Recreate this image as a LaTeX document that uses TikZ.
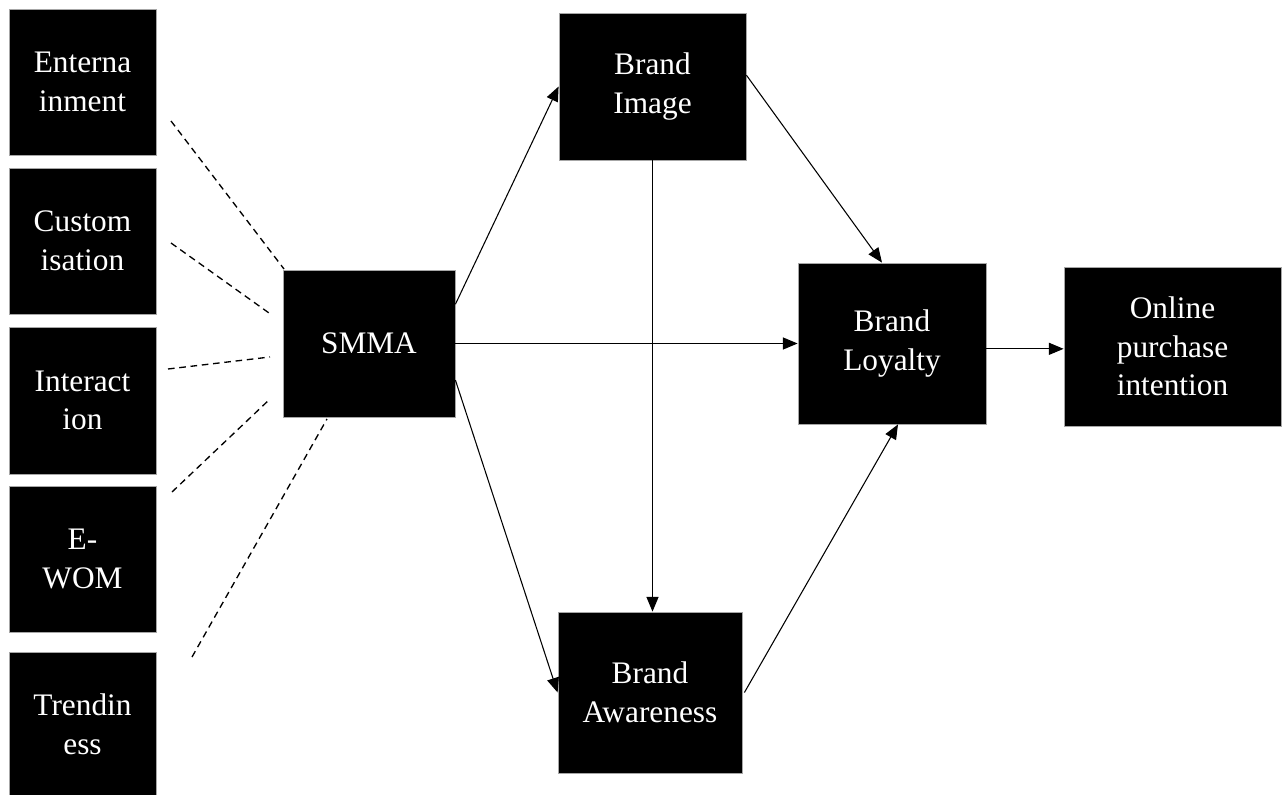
\documentclass[tikz,border=0pt]{standalone}
\usepackage{fontspec}
\setmainfont{Liberation Serif}
\usetikzlibrary{arrows.meta,calc}
\begin{document}
\begin{tikzpicture}[x=0.75pt,y=-0.75pt,
  box/.style={fill=black,draw=gray!70,line width=0.6pt,text=white,align=center,inner sep=0pt,
    font=\fontsize{23.5}{29}\selectfont},
  conn/.style={line width=0.8pt,-{Triangle[length=11pt,width=9pt]}},
  dline/.style={line width=1pt,dash pattern=on 5pt off 3.5pt}]
\useasboundingbox (0,0) rectangle (1285,795);
% left boxes
\node[box,minimum width=110.25pt,minimum height=109.5pt] (e1) at (82.5,82) {Enterna\\inment};
\node[box,minimum width=110.25pt,minimum height=109.5pt] (e2) at (82.5,241) {Custom\\isation};
\node[box,minimum width=110.25pt,minimum height=110.25pt] (e3) at (82.5,400.5) {Interact\\ion};
\node[box,minimum width=110.25pt,minimum height=109.5pt] (e4) at (82.5,559) {E-\\WOM};
\node[box,minimum width=110.25pt,minimum height=108pt] (e5) at (82.5,724) {Trendin\\ess};
% main boxes
\node[box,minimum width=129pt,minimum height=110.25pt] (smma) at (369,343.5) {SMMA};
\node[box,minimum width=140.25pt,minimum height=110.25pt] (bi) at (652.5,86.5) {Brand\\Image};
\node[box,minimum width=138pt,minimum height=120.75pt] (ba) at (650,692.5) {Brand\\Awareness};
\node[box,minimum width=141pt,minimum height=120.75pt] (bl) at (892,343.5) {Brand\\Loyalty};
\node[box,minimum width=162.75pt,minimum height=119.25pt] (op) at (1172.5,346.5) {Online\\purchase\\intention};
% dashed lines (free ends)
\coordinate (d1a) at (171,121); \coordinate (d1b) at (284,269);
\coordinate (d2a) at (171,243); \coordinate (d2b) at (269,313);
\coordinate (d3a) at (168,369); \coordinate (d3b) at (270,357);
\coordinate (d4a) at (172,492); \coordinate (d4b) at (270,399);
\coordinate (d5a) at (192,657); \coordinate (d5b) at (327,419);
\draw[dline] (d1a) -- (d1b);
\draw[dline] (d2a) -- (d2b);
\draw[dline] (d3a) -- (d3b);
\draw[dline] (d4a) -- (d4b);
\draw[dline] (d5a) -- (d5b);
% arrows
\draw[conn] ([yshift=-26pt]smma.north east) -- (bi.west);
\draw[conn] ([yshift=28pt]smma.south east) -- (ba.west);
\draw[conn] (smma.east) -- (bl.west);
\draw[conn] (bi.south) -- (bi.south |- ba.north);
\draw[conn] ([yshift=8.5pt]bi.east) -- ([xshift=-7.5pt]bl.north);
\draw[conn] ([xshift=1.5pt]ba.east) -- ([xshift=4.5pt]bl.south);
\draw[conn] ([yshift=-4pt]bl.east) -- ([yshift=-4pt]bl.east -| op.west);
\end{tikzpicture}
\end{document}
